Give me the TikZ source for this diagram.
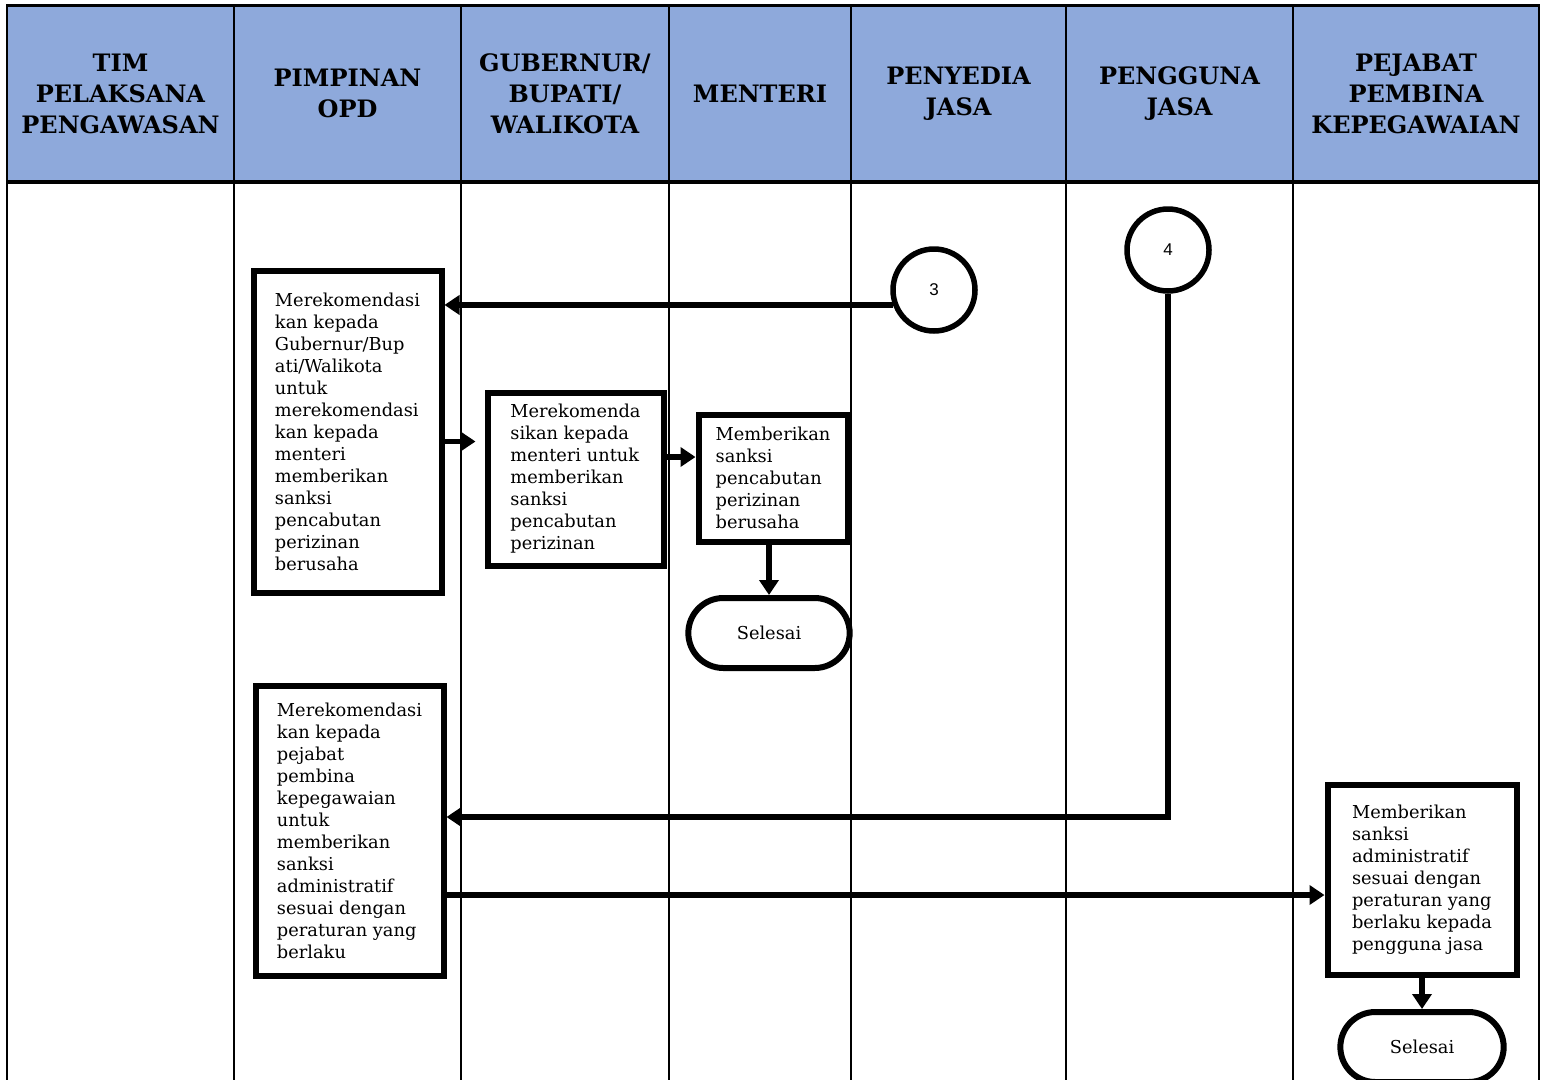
\documentclass[tikz,border=0pt]{standalone}
\usepackage{fontspec}
\setmainfont{DejaVu Serif}
\newfontfamily\numfam{Liberation Sans}
\usetikzlibrary{positioning,arrows.meta,shapes.misc}
\definecolor{hdrblue}{RGB}{142,169,219}
\newcommand{\hdrfont}{\fontsize{24}{31}\selectfont\bfseries}
\newcommand{\boxfont}{\fontsize{17.8}{22}\selectfont}
\newcommand{\numfont}{\numfam\fontsize{17}{20}\selectfont}

\begin{document}
\begin{tikzpicture}[x=1pt, y=-1pt,
    lane/.style={line width=2pt},
    hdr/.style={draw, line width=2pt, fill=hdrblue, minimum height=175pt, align=center, font=\hdrfont},
    proc/.style={draw, line width=6pt, align=left, font=\boxfont, inner sep=0pt},
    ends/.style={draw, rounded rectangle, line width=6pt, minimum width=168pt, minimum height=70pt, font=\boxfont},
    conn/.style={draw, circle, line width=5.5pt, minimum size=82pt, font=\numfont},
    flow/.style={line width=5.5pt, -{Triangle[length=15pt,width=19pt]}}]
    \useasboundingbox (0,0) rectangle (1546,1079);

    % Header row
    \node[hdr, minimum width=227pt] (h1) at (120.5, 93.5) {TIM\\PELAKSANA\\PENGAWASAN};
    \node[hdr, minimum width=227pt] (h2) at (347.5, 93.5) {PIMPINAN\\OPD};
    \node[hdr, minimum width=208pt] (h3) at (565, 93.5) {GUBERNUR/\\BUPATI/\\WALIKOTA};
    \node[hdr, minimum width=182pt] (h4) at (760, 93.5) {MENTERI};
    \node[hdr, minimum width=215pt] (h5) at (958.5, 93.5) {PENYEDIA\\JASA};
    \node[hdr, minimum width=227pt] (h6) at (1179.5, 93.5) {PENGGUNA\\JASA};
    \node[hdr, minimum width=246pt] (h7) at (1416, 93.5) {PEJABAT\\PEMBINA\\KEPEGAWAIAN};
    \draw[line width=3pt] (h1.north west) -- (h7.north east);
    \draw[line width=3pt] (h1.south west) -- (h7.south east);

    % Lanes
    \foreach \lx in {7, 234, 461, 669, 851, 1066, 1293, 1539}
        \draw[lane] (\lx, 181) -- (\lx, 1085);

    % Connectors
    \node[conn] (c3) at (934, 290) {3};
    \node[conn] (c4) at (1168, 250) {4};

    % Upper flow
    \node[proc, minimum width=188pt, minimum height=322pt] (recA) at (347.5, 431.5)
        {Merekomendasi\\kan kepada\\Gubernur/Bup\\ati/Walikota\\untuk\\merekomendasi\\kan kepada\\menteri\\memberikan\\sanksi\\pencabutan\\perizinan\\berusaha};
    \node[proc, minimum width=176pt, minimum height=173pt] (recB) at (575.5, 479)
        {Merekomenda\\sikan kepada\\menteri untuk\\memberikan\\sanksi\\pencabutan\\perizinan};
    \node[proc, minimum width=149pt, minimum height=127pt] (sanC) at (773, 478)
        {Memberikan\\sanksi\\pencabutan\\perizinan\\berusaha};
    \node[ends] (end1) at (769, 633) {Selesai};

    % Lower flow
    \node[proc, minimum width=188pt, minimum height=290pt] (recD) at (349.5, 830.5)
        {Merekomendasi\\kan kepada\\pejabat\\pembina\\kepegawaian\\untuk\\memberikan\\sanksi\\administratif\\sesuai dengan\\peraturan yang\\berlaku};
    \node[proc, minimum width=189pt, minimum height=190pt] (sanE) at (1422, 879.5)
        {Memberikan\\sanksi\\administratif\\sesuai dengan\\peraturan yang\\berlaku kepada\\pengguna jasa};
    \node[ends, minimum width=170pt] (end2) at (1422, 1047) {Selesai};

    % Arrows
    \draw[flow] (c3.200) -- (c3.200 -| recA.east);
    \draw[flow, shorten >=9pt] ([yshift=-10pt]recA.east) -- ([yshift=-10pt]recA.east -| recB.west);
    \draw[flow] ([yshift=22pt]recB.east) -- ([yshift=22pt]recB.east -| sanC.west);
    \draw[flow] (sanC.south -| end1.north) -- (end1.north);
    \draw[flow] (c4.south) |- ([yshift=13.5pt]recD.east);
    \draw[flow] ([yshift=-64.5pt]recD.east) -- ([yshift=-64.5pt]recD.east -| sanE.west);
    \draw[flow] (sanE.south) -- (end2.north);
\end{tikzpicture}
\end{document}
